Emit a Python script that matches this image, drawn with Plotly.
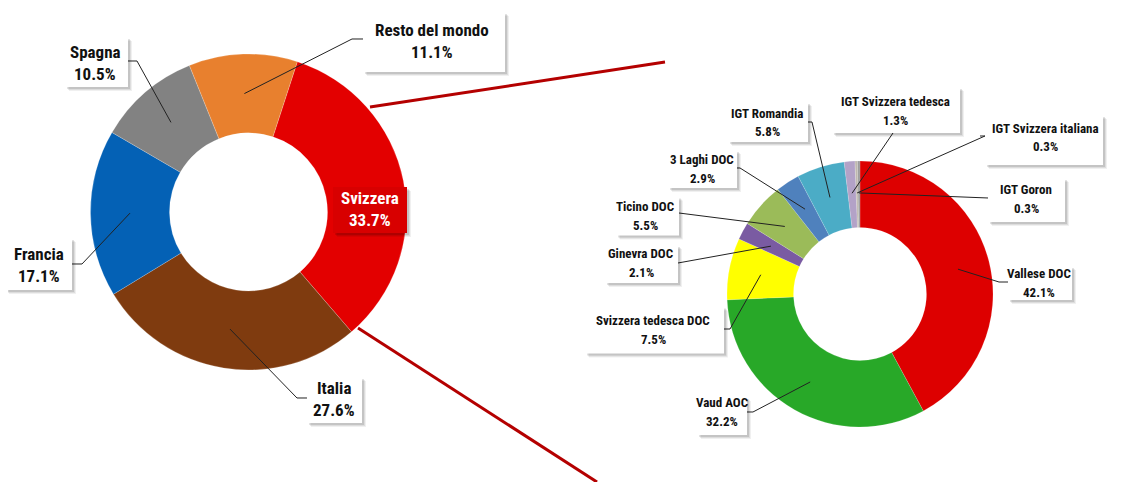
import math
import plotly.graph_objects as go

W, H = 1134, 482
OFF = 8  # page body margin
FW, FH = W - OFF, H - OFF

# ---- data ----
origin_labels = ["Svizzera", "Italia", "Francia", "Spagna", "Resto del mondo"]
origin_values = [33.7, 27.6, 17.1, 10.5, 11.1]
origin_colors = ["#E30000", "#7F3B0F", "#0461B5", "#828282", "#E8802E"]

swiss_labels = ["Vallese DOC", "Vaud AOC", "Svizzera tedesca DOC", "Ginevra DOC",
                "Ticino DOC", "3 Laghi DOC", "IGT Romandia", "IGT Svizzera tedesca",
                "IGT Svizzera italiana", "IGT Goron"]
swiss_values = [42.1, 32.2, 7.5, 2.1, 5.5, 2.9, 5.8, 1.3, 0.3, 0.3]
swiss_colors = ["#DD0000", "#28A828", "#FFFF00", "#7A5BA2", "#9BBB59", "#4F81BD",
                "#4BACC6", "#B3A2C7", "#BFB8AE", "#9C9C9C"]

# ---- layout geometry (page pixels) ----
L_C, L_R, L_ROT = (248.5, 212.0), 158.0, 18.0
R_C, R_R, R_ROT = (860.0, 294.0), 133.0, 0.0

FONT = "Roboto Condensed, Roboto, Liberation Sans Narrow, sans-serif"


def px(x):
    return (x - OFF) / FW


def py(y):
    return 1 - (y - OFF) / FH


def domain(c, r):
    return dict(x=[px(c[0] - r), px(c[0] + r)], y=[py(c[1] + r), py(c[1] - r)])


def anchors(values, c, r, rot, frac=0.75):
    tot = sum(values)
    out, cum = [], 0.0
    for v in values:
        mid = math.radians(rot + (cum + v / 2) / tot * 360)
        out.append((c[0] + frac * r * math.sin(mid), c[1] - frac * r * math.cos(mid)))
        cum += v
    return out


fig = go.Figure()
fig.add_trace(go.Pie(labels=origin_labels, values=origin_values, hole=0.5, sort=False,
                     direction="clockwise", rotation=L_ROT, textinfo="none",
                     marker=dict(colors=origin_colors, line=dict(color="rgba(255,255,255,0.4)", width=0.5)),
                     domain=domain(L_C, L_R), showlegend=False))
fig.add_trace(go.Pie(labels=swiss_labels, values=swiss_values, hole=0.5, sort=False,
                     direction="clockwise", rotation=R_ROT, textinfo="none",
                     marker=dict(colors=swiss_colors, line=dict(color="rgba(255,255,255,0.3)", width=0.5)),
                     domain=domain(R_C, R_R), showlegend=False))

shapes, annots = [], []

# connector lines between the two charts
for (x0, y0), (x1, y1) in [((370, 107), (665, 62)), ((358, 328), (597, 482))]:
    shapes.append(dict(type="line", xref="paper", yref="paper", x0=px(x0), y0=py(y0),
                       x1=px(x1), y1=py(y1), line=dict(color="#B40000", width=3), layer="above"))


def label_box(name, val, box, tpos, size, gap, elbow, anchor, bg="white", fg="#111111"):
    cx, cy, w, h = box
    if anchor is not None:
        pts = [anchor] + elbow
        path = "M " + " L ".join(f"{px(x):.5f},{py(y):.5f}" for x, y in pts)
        shapes.append(dict(type="path", xref="paper", yref="paper", path=path,
                           line=dict(color="#222222", width=1), layer="above"))
    for off, a in [(4, 0.06), (3, 0.08), (2, 0.11)]:
        shapes.append(dict(type="rect", xref="paper", yref="paper",
                           x0=px(cx - w / 2 + off), x1=px(cx + w / 2 + off),
                           y0=py(cy - h / 2 + off), y1=py(cy + h / 2 + off),
                           fillcolor=f"rgba(0,0,0,{a})", line=dict(width=0), layer="above"))
    shapes.append(dict(type="rect", xref="paper", yref="paper",
                       x0=px(cx - w / 2), x1=px(cx + w / 2),
                       y0=py(cy - h / 2), y1=py(cy + h / 2),
                       fillcolor=bg, line=dict(width=0), layer="above"))
    tx, ty = tpos
    for t, yy in [(name, ty - gap / 2), (f"{val:.1f}%", ty + gap / 2)]:
        annots.append(dict(text=f"<b>{t}</b>", x=px(tx), y=py(yy), xref="paper", yref="paper",
                           showarrow=False, xanchor="center", yanchor="middle", align="center",
                           font=dict(family=FONT, size=size, color=fg)))


# left chart labels: box (cx, cy, w, h), text centre, elbow points [anchor -> box]
L_anch = anchors(origin_values, L_C, L_R, L_ROT)
left_boxes = {
    "Svizzera": ((370, 210, 74, 46), (370, 209), None),
    "Italia": ((334.5, 400, 55, 46), (334, 399), [(297, 398), (307, 398)]),
    "Francia": ((38.5, 264, 67, 52), (38.5, 265), [(82, 264), (72, 264)]),
    "Spagna": ((96.5, 62, 63, 50), (95, 63), [(137, 61), (128, 61)]),
    "Resto del mondo": ((434, 42, 142, 60), (432, 41), [(352, 39), (363, 39)]),
}
for i, lbl in enumerate(origin_labels):
    box, tpos, elbow = left_boxes[lbl]
    if lbl == "Svizzera":
        label_box(lbl, origin_values[i], box, tpos, 17, 22, [], None, bg="#D80000", fg="white")
    else:
        label_box(lbl, origin_values[i], box, tpos, 17, 22, elbow, L_anch[i])

# right chart labels
R_anch = anchors(swiss_values, R_C, R_R, R_ROT, frac=0.76)
right_boxes = {
    "Vallese DOC": ((1040, 283, 64, 34), (1039, 283), [(999, 282), (1008, 282)]),
    "Vaud AOC": ((722, 416, 50, 38), (722, 412), [(753, 412), (747, 412)]),
    "Svizzera tedesca DOC": ((654.5, 330, 139, 47), (653, 330), [(730, 329), (724, 329)]),
    "Ginevra DOC": ((641.5, 264, 73, 38), (641, 263), [(678, 263)]),
    "Ticino DOC": ((647.5, 216, 63, 39), (645, 216), [(679, 213)]),
    "3 Laghi DOC": ((702.5, 169, 69, 38), (702, 169), [(740, 168), (737, 168)]),
    "IGT Romandia": ((768, 122, 80, 40), (767, 122.5), [(812, 122), (808, 122)]),
    "IGT Svizzera tedesca": ((896, 110, 128, 46), (895, 111), [(893, 133)]),
    "IGT Svizzera italiana": ((1044, 140, 118, 50), (1045, 137.5), [(985, 136), (980, 136)]),
    "IGT Goron": ((1026.5, 200, 77, 44), (1026, 199), [(988, 198)]),
}
for i, lbl in enumerate(swiss_labels):
    box, tpos, elbow = right_boxes[lbl]
    label_box(lbl, swiss_values[i], box, tpos, 13, 18.5, elbow, R_anch[i])

fig.update_layout(width=FW, height=FH, margin=dict(l=0, r=0, t=0, b=0),
                  paper_bgcolor="white", plot_bgcolor="white",
                  shapes=shapes, annotations=annots, showlegend=False)

fig.write_html("out.html")
